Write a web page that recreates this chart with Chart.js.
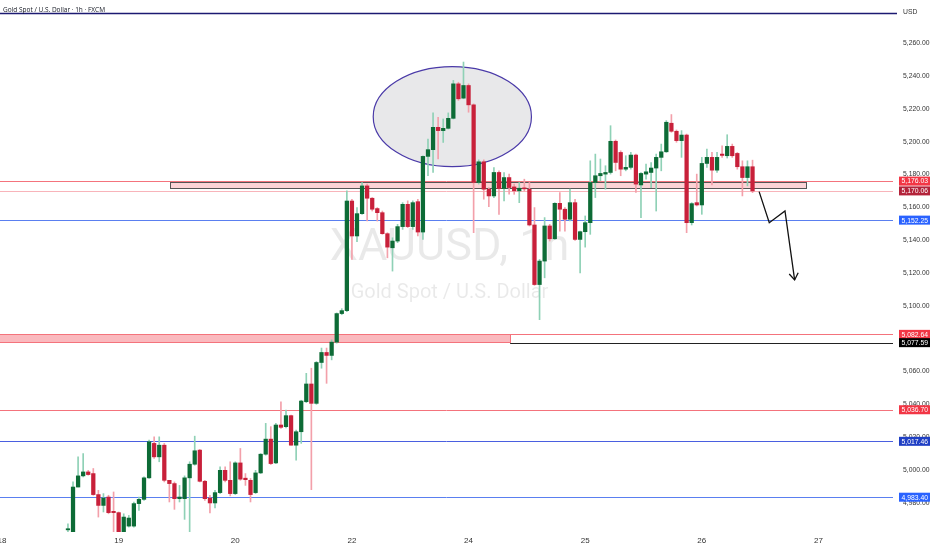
<!DOCTYPE html>
<html>
<head>
<meta charset="utf-8">
<script src="https://cdn.jsdelivr.net/npm/chart.js@4.4.1/dist/chart.umd.min.js"></script>
<style>
  html, body { margin: 0; padding: 0; background: #fff; }
</style>
</head>
<body>
<canvas id="chart" width="932" height="550"></canvas>
<script>
// hourly candles, first visible bar is bar 13 (day "18" starts at bar 0)
const firstBar = 13;
const opens = [
  4963.5, 4955.0, 4989.6, 4996.4, 4998.8, 4997.8, 4985.0, 4978.4, 4983.5, 4974.8,
  4974.0, 4960.0, 4965.8, 4965.8, 4979.5, 4982.1, 4995.2, 5016.2, 5008.0, 5015.1,
  4993.7, 4991.7, 4982.5, 4982.5, 4995.2, 5003.5, 5012.1, 4993.1, 4982.9, 4979.9,
  4986.2, 4999.8, 4993.7, 4985.6, 5004.3, 4995.0, 4993.7, 4986.2, 4998.2, 5009.6,
  5018.8, 5004.3, 5027.4, 5026.4, 5033.1, 5015.1, 5023.3, 5041.6, 5052.4, 5040.6,
  5065.5, 5071.6, 5069.8, 5077.9, 5095.3, 5097.1, 5163.9, 5142.6, 5156.2, 5173.1,
  5165.6, 5159.3, 5156.8, 5144.0, 5135.4, 5139.5, 5148.3, 5161.9, 5148.3, 5163.5,
  5145.0, 5191.1, 5195.2, 5208.8, 5206.8, 5208.2, 5214.3, 5235.3, 5226.6, 5234.3,
  5222.5, 5175.2, 5187.8, 5171.1, 5167.0, 5181.3, 5171.5, 5178.2, 5172.5, 5170.1,
  5171.7, 5171.1, 5149.3, 5113.0, 5127.3, 5148.7, 5140.9, 5162.5, 5158.9, 5152.8,
  5162.9, 5140.5, 5145.2, 5150.7, 5175.2, 5179.3, 5180.3, 5181.3, 5200.3, 5193.5,
  5183.3, 5184.4, 5191.9, 5173.7, 5180.3, 5181.3, 5184.0, 5190.5, 5193.9, 5211.3,
  5206.4, 5200.7, 5204.1, 5150.7, 5162.9, 5161.5, 5186.8, 5190.5, 5182.7, 5192.5,
  5191.5, 5197.2, 5192.9, 5184.8, 5178.2, 5184.8
];
const highs = [
  4967.2, 4992.7, 5008.0, 5010.0, 4999.8, 5000.9, 4987.6, 4985.6, 4984.6, 4986.6,
  4974.4, 4973.3, 4972.3, 4980.5, 4983.5, 4995.8, 5018.2, 5020.2, 5020.2, 5016.2,
  4993.7, 4992.7, 4990.6, 4996.4, 5005.0, 5020.6, 5012.5, 4993.7, 4984.6, 4987.6,
  5001.9, 5001.9, 5005.0, 5005.0, 5013.1, 4997.8, 4994.8, 4999.8, 5010.0, 5028.4,
  5026.4, 5028.4, 5041.6, 5036.5, 5033.5, 5024.3, 5042.5, 5058.9, 5062.0, 5066.1,
  5074.3, 5074.3, 5079.3, 5095.7, 5098.3, 5170.1, 5165.0, 5159.9, 5175.2, 5174.2,
  5166.0, 5159.9, 5157.8, 5144.6, 5141.5, 5149.7, 5162.9, 5164.0, 5164.0, 5165.0,
  5191.5, 5201.7, 5217.6, 5214.9, 5213.9, 5217.6, 5237.4, 5236.3, 5248.6, 5235.3,
  5223.1, 5189.0, 5189.0, 5172.1, 5184.3, 5182.3, 5181.3, 5180.3, 5174.2, 5175.2,
  5177.2, 5175.2, 5159.9, 5128.3, 5153.8, 5149.7, 5162.9, 5169.1, 5159.9, 5171.1,
  5165.0, 5145.6, 5154.8, 5188.4, 5192.5, 5189.5, 5185.4, 5209.8, 5201.1, 5194.5,
  5191.5, 5193.5, 5192.5, 5181.3, 5186.4, 5187.4, 5192.5, 5198.6, 5212.9, 5216.6,
  5207.2, 5206.8, 5204.7, 5162.9, 5180.3, 5190.5, 5195.6, 5193.5, 5193.5, 5197.6,
  5204.3, 5198.6, 5193.5, 5188.4, 5188.4, 5188.8
];
const lows = [
  4961.1, 4950.0, 4989.6, 4995.8, 4996.8, 4984.6, 4971.3, 4974.4, 4973.3, 4962.1,
  4958.0, 4958.0, 4965.2, 4965.2, 4975.4, 4981.5, 4994.8, 5007.0, 5005.0, 4992.7,
  4980.5, 4976.0, 4980.5, 4969.9, 4961.7, 5002.9, 4992.7, 4981.5, 4973.8, 4976.8,
  4985.6, 4992.7, 4984.2, 4985.0, 4993.7, 4990.6, 4980.5, 4985.6, 4997.8, 5009.0,
  5003.3, 5003.9, 5025.3, 5025.6, 5015.1, 5006.0, 5016.2, 5041.0, 4988.0, 5040.0,
  5062.0, 5052.8, 5067.1, 5077.3, 5094.6, 5096.5, 5128.3, 5139.1, 5155.8, 5151.7,
  5157.8, 5151.7, 5143.6, 5129.3, 5121.2, 5138.5, 5146.6, 5147.7, 5146.6, 5142.6,
  5140.5, 5179.3, 5181.3, 5189.5, 5199.6, 5207.8, 5213.9, 5225.2, 5226.2, 5218.0,
  5144.6, 5174.2, 5165.0, 5160.5, 5166.0, 5155.8, 5164.0, 5168.0, 5168.0, 5162.9,
  5170.1, 5148.7, 5112.5, 5091.6, 5117.1, 5139.5, 5140.5, 5145.6, 5145.6, 5151.7,
  5139.9, 5120.1, 5135.8, 5143.6, 5166.0, 5176.2, 5171.1, 5180.3, 5182.3, 5179.3,
  5182.3, 5183.3, 5169.1, 5153.8, 5177.2, 5172.1, 5157.8, 5182.3, 5193.5, 5205.8,
  5199.7, 5190.5, 5144.6, 5149.3, 5160.9, 5155.8, 5184.4, 5173.7, 5181.3, 5190.5,
  5190.1, 5190.5, 5183.3, 5167.0, 5173.1, 5169.0
];
const closes = [
  4964.2, 4989.6, 4996.4, 4998.8, 4997.2, 4985.0, 4978.4, 4982.9, 4974.0, 4974.0,
  4960.0, 4971.3, 4970.7, 4979.5, 4982.1, 4995.2, 5017.2, 5008.0, 5015.1, 4993.7,
  4991.7, 4982.5, 4983.5, 4995.2, 5003.5, 5011.7, 4993.1, 4982.5, 4979.9, 4986.2,
  4999.8, 4993.7, 4985.6, 5004.3, 4994.4, 4994.1, 4985.0, 4998.2, 5009.6, 5018.8,
  5003.9, 5027.4, 5026.0, 5033.1, 5015.1, 5023.3, 5042.0, 5052.4, 5040.6, 5065.5,
  5071.6, 5069.8, 5077.9, 5095.3, 5097.1, 5163.9, 5142.6, 5156.2, 5173.1, 5165.6,
  5158.9, 5156.8, 5144.0, 5135.8, 5139.5, 5148.3, 5161.9, 5148.3, 5162.9, 5145.0,
  5191.1, 5195.2, 5208.8, 5206.8, 5208.2, 5214.3, 5235.3, 5226.2, 5234.3, 5222.5,
  5175.2, 5187.8, 5171.1, 5167.0, 5181.3, 5171.5, 5178.2, 5172.1, 5170.1, 5171.7,
  5171.3, 5149.3, 5113.0, 5127.3, 5148.7, 5140.9, 5162.5, 5158.9, 5152.8, 5162.9,
  5140.5, 5145.2, 5150.7, 5175.2, 5179.3, 5180.7, 5181.3, 5200.3, 5187.4, 5183.3,
  5184.4, 5191.9, 5174.2, 5180.7, 5181.7, 5184.0, 5190.5, 5193.9, 5211.9, 5206.4,
  5200.7, 5204.1, 5150.7, 5162.3, 5161.5, 5186.8, 5190.5, 5182.7, 5190.5, 5191.7,
  5197.2, 5191.5, 5184.8, 5178.2, 5184.8, 5170.06
];

// x axis: bar index where each day label sits
const dayTicks = [0, 23, 46, 69, 92, 115, 138, 161];
const dayLabels = ["18", "19", "20", "22", "24", "25", "26", "27"];
const priceTicks = [4980, 5000, 5020, 5040, 5060, 5080, 5100, 5120, 5140, 5160, 5180, 5200, 5220, 5240, 5260];

// horizontal levels and their price tags
const levelPrices = [5176.03, 5170.06, 5152.25, 5082.64, 5077.59, 5036.70, 5017.46, 4983.40];
const levelStart = [null, null, null, null, 100.2, null, null, null];
const levelLineColors = ["#f4737c", "#f8b4ba", "#5a7ff0", "#f4737c", "#222222", "#f4737c", "#4a5fe0", "#5a7ff0"];
const levelTagColors = ["#f23645", "#b3233a", "#2962ff", "#f23645", "#000000", "#f23645", "#1f3fc4", "#2962ff"];
const topLinePrice = 5278.4;

// rectangles (zones)
const zoneTop = [5175.3, 5082.64];
const zoneBottom = [5171.6, 5077.59];
const zoneStart = [33.2, -2];
const zoneEnd = [158.6, 100.2];
const zoneFill = ["rgba(242,54,69,0.22)", "rgba(242,54,69,0.35)"];
const zoneBorder = ["#555555", "#f4737c"];

// ellipse around the top, and the drawn arrow (bar index / price)
const ellipseCenter = [88.8, 5215.3];
const ellipseRadius = [15.6, 30.5];
const arrowBars = [149.3, 151.3, 154.4, 156.3];
const arrowPrices = [5169.6, 5150.7, 5157.9, 5115.8];

const green = "#0d6b36";
const red = "#c8203a";
const greenWick = "#8fd1b6";
const redWick = "#f3a0aa";

const bars = opens.map((o, i) => firstBar + i);
const isUp = i => closes[i] >= opens[i];

const overlay = {
  id: "overlay",
  beforeDatasetsDraw(chart) {
    const { ctx, chartArea: a, scales: { x, y } } = chart;
    ctx.save();
    ctx.beginPath();
    ctx.rect(a.left, a.top, a.right - a.left, a.bottom - a.top);
    ctx.clip();

    // watermark
    const cx = (a.left + a.right) / 2 + 3;
    ctx.fillStyle = "rgba(0,0,0,0.085)";
    ctx.textAlign = "center";
    ctx.textBaseline = "middle";
    ctx.font = "45px Roboto";
    ctx.fillText("XAUUSD, 1h", cx, 249);
    ctx.font = "20px Roboto";
    ctx.fillText("Gold Spot / U.S. Dollar", cx, 293);

    // ellipse
    const ex = x.getPixelForValue(ellipseCenter[0]);
    const ey = y.getPixelForValue(ellipseCenter[1]);
    const rx = x.getPixelForValue(ellipseCenter[0] + ellipseRadius[0]) - ex;
    const ry = ey - y.getPixelForValue(ellipseCenter[1] + ellipseRadius[1]);
    ctx.beginPath();
    ctx.ellipse(ex, ey, rx, ry, 0, 0, Math.PI * 2);
    ctx.fillStyle = "rgba(190,190,195,0.35)";
    ctx.fill();
    ctx.lineWidth = 1.2;
    ctx.strokeStyle = "#4a3aa8";
    ctx.stroke();

    // zones
    zoneTop.forEach((t, i) => {
      const x0 = x.getPixelForValue(zoneStart[i]);
      const x1 = x.getPixelForValue(zoneEnd[i]);
      const y0 = y.getPixelForValue(t);
      const y1 = y.getPixelForValue(zoneBottom[i]);
      ctx.fillStyle = zoneFill[i];
      ctx.fillRect(x0, y0, x1 - x0, y1 - y0);
      ctx.lineWidth = 1;
      ctx.strokeStyle = zoneBorder[i];
      ctx.strokeRect(Math.round(x0) + 0.5, Math.round(y0) + 0.5, Math.round(x1 - x0), Math.round(y1 - y0));
    });

    // horizontal levels
    levelPrices.forEach((p, i) => {
      const yy = Math.round(y.getPixelForValue(p)) + 0.5;
      const x0 = levelStart[i] === null ? a.left : x.getPixelForValue(levelStart[i]);
      ctx.beginPath();
      ctx.moveTo(x0, yy);
      ctx.lineTo(a.right, yy);
      ctx.lineWidth = 1;
      ctx.strokeStyle = levelLineColors[i];
      ctx.stroke();
    });
    ctx.restore();

    // top drawn line runs a little into the price scale
    const ty = Math.round(y.getPixelForValue(topLinePrice)) + 0.5;
    ctx.save();
    ctx.beginPath();
    ctx.moveTo(a.left, ty);
    ctx.lineTo(a.right + 4, ty);
    ctx.lineWidth = 1.3;
    ctx.strokeStyle = "#1c1a72";
    ctx.stroke();
    ctx.restore();
  },
  afterDatasetsDraw(chart) {
    const { ctx, scales: { x, y } } = chart;
    const pts = arrowBars.map((b, i) => [x.getPixelForValue(b), y.getPixelForValue(arrowPrices[i])]);
    ctx.save();
    ctx.strokeStyle = "#111";
    ctx.lineWidth = 1.3;
    ctx.beginPath();
    pts.forEach((p, i) => (i ? ctx.lineTo(p[0], p[1]) : ctx.moveTo(p[0], p[1])));
    ctx.stroke();
    const [px, py] = pts[pts.length - 2];
    const [qx, qy] = pts[pts.length - 1];
    const ang = Math.atan2(qy - py, qx - px);
    ctx.beginPath();
    ctx.moveTo(qx - 8 * Math.cos(ang - 0.6), qy - 8 * Math.sin(ang - 0.6));
    ctx.lineTo(qx, qy);
    ctx.lineTo(qx - 8 * Math.cos(ang + 0.6), qy - 8 * Math.sin(ang + 0.6));
    ctx.stroke();
    ctx.restore();
  },
  afterDraw(chart) {
    const { ctx, chartArea: a, scales: { y } } = chart;
    ctx.save();
    ctx.font = "6.8px 'Liberation Sans'";
    ctx.textBaseline = "middle";
    ctx.textAlign = "left";
    levelPrices.forEach((p, i) => {
      const yy = y.getPixelForValue(p);
      ctx.fillStyle = levelTagColors[i];
      ctx.fillRect(a.right + 6, yy - 4.5, 31, 9);
      ctx.fillStyle = "#fff";
      ctx.fillText(p.toLocaleString("en-US", { minimumFractionDigits: 2 }), a.right + 8.5, yy + 0.5);
    });
    ctx.fillStyle = "#333";
    ctx.fillText("USD", a.right + 10, 12.5);
    ctx.fillStyle = "#131722";
    ctx.font = "6.5px 'Open Sans'";
    ctx.fillText("Gold Spot / U.S. Dollar \u00b7 1h \u00b7 FXCM", 3, 10.5);
    ctx.restore();
  }
};

new Chart(document.getElementById("chart"), {
  type: "bar",
  data: {
    datasets: [
      {
        label: "wick",
        data: bars.map((b, i) => ({ x: b, y: [lows[i], highs[i]] })),
        backgroundColor: ctx => (isUp(ctx.dataIndex) ? greenWick : redWick),
        barThickness: 1,
        grouped: false,
        order: 2
      },
      {
        label: "body",
        data: bars.map((b, i) => ({ x: b, y: [opens[i], closes[i]] })),
        backgroundColor: ctx => (isUp(ctx.dataIndex) ? green : red),
        barThickness: 3.6,
        minBarLength: 1,
        grouped: false,
        order: 1
      }
    ]
  },
  options: {
    responsive: false,
    animation: false,
    layout: { padding: 0 },
    plugins: { legend: { display: false }, tooltip: { enabled: false } },
    scales: {
      x: {
        type: "linear",
        offset: false,
        min: -0.4,
        max: 175.7,
        grid: { display: false, drawTicks: false },
        border: { display: false },
        afterBuildTicks: s => { s.ticks = dayTicks.map(v => ({ value: v })); },
        afterFit: s => { s.height = 18; s.paddingLeft = 0; s.paddingRight = 0; },
        ticks: {
          autoSkip: false,
          maxRotation: 0,
          padding: 4,
          color: "#333",
          font: { size: 8, family: "'Liberation Sans'" },
          callback: v => dayLabels[dayTicks.indexOf(v)]
        }
      },
      y: {
        type: "linear",
        position: "right",
        min: 4962.2,
        max: 5286.4,
        grid: { display: false, drawTicks: false },
        border: { display: false },
        afterBuildTicks: s => { s.ticks = priceTicks.map(v => ({ value: v })); },
        afterFit: s => { s.width = 39; s.paddingTop = 0; s.paddingBottom = 0; },
        ticks: {
          padding: 10,
          color: "#333",
          font: { size: 6.8, family: "'Liberation Sans'" },
          callback: v => v.toLocaleString("en-US", { minimumFractionDigits: 2 })
        }
      }
    }
  },
  plugins: [overlay]
});
</script>
</body>
</html>
